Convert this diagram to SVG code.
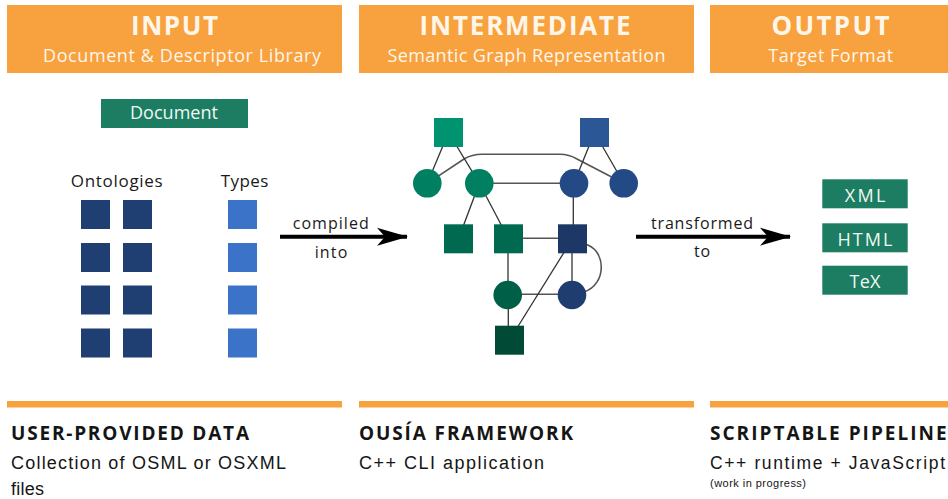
<svg xmlns="http://www.w3.org/2000/svg" width="948" height="499" viewBox="0 0 948 499">
<defs>
<style>
.hdr{fill:#F8A13F}
.ttl{font-family:"Open Sans","Noto Sans",sans-serif;font-weight:bold;font-size:26px;fill:#FFF6EA;text-anchor:middle}
.sub{font-family:"Open Sans","Noto Sans",sans-serif;font-size:18px;fill:#FFF6EA;text-anchor:middle}
.lbl{font-family:"Open Sans","Noto Sans",sans-serif;font-size:17px;fill:#1a1a1a;text-anchor:middle}
.box{fill:#1C7D62}
.boxt{font-family:"Open Sans","Noto Sans",sans-serif;font-size:18px;fill:#F2F7F4;text-anchor:middle}
.ont{fill:#1F3F73}
.typ{fill:#3B73C9}
.bar{fill:#F8A13F}
.bh{font-family:"Open Sans","Noto Sans",sans-serif;font-weight:bold;font-size:19px;fill:#151515}
.bt{font-family:"Liberation Sans","DejaVu Sans",sans-serif;font-size:18px;fill:#151515}
.sm{font-family:"Liberation Sans","DejaVu Sans",sans-serif;font-size:11px;fill:#151515}
.e{stroke:#333;stroke-width:1.3;fill:none}
.eg{stroke:#555;stroke-width:1.6;fill:none}
.arr{stroke:#000;stroke-width:4;fill:none}
</style>
<marker id="ah" viewBox="0 0 32 20" refX="30" refY="10" markerWidth="32" markerHeight="20" markerUnits="userSpaceOnUse" orient="auto">
<polygon points="0,1 31,10 0,19 8,10" fill="#000"/>
</marker>
</defs>

<g id="header-input">
<rect class="hdr" x="7" y="5" width="335" height="68"/>
<text class="ttl" x="174.5" y="35" textLength="87" lengthAdjust="spacing">INPUT</text>
<text class="sub" x="182" y="62" textLength="278" lengthAdjust="spacing">Document &amp; Descriptor Library</text>
</g>
<g id="header-intermediate">
<rect class="hdr" x="359" y="5" width="335" height="68"/>
<text class="ttl" x="525" y="35" textLength="211" lengthAdjust="spacing">INTERMEDIATE</text>
<text class="sub" x="526.5" y="62" textLength="278" lengthAdjust="spacing">Semantic Graph Representation</text>
</g>
<g id="header-output">
<rect class="hdr" x="710" y="5" width="245" height="68"/>
<text class="ttl" x="830.5" y="35" textLength="118" lengthAdjust="spacing">OUTPUT</text>
<text class="sub" x="830.7" y="62" textLength="125" lengthAdjust="spacing">Target Format</text>
</g>

<g id="document">
<rect class="box" x="101" y="99" width="147" height="29"/>
<text class="boxt" x="174" y="119" textLength="88" lengthAdjust="spacing">Document</text>
</g>

<g id="ontologies">
<text class="lbl" x="116.7" y="186.7" textLength="92" lengthAdjust="spacing">Ontologies</text>
<rect class="ont" x="81" y="200" width="29" height="29"/>
<rect class="ont" x="123" y="200" width="29" height="29"/>
<rect class="ont" x="81" y="243" width="29" height="29"/>
<rect class="ont" x="123" y="243" width="29" height="29"/>
<rect class="ont" x="81" y="285.5" width="29" height="29"/>
<rect class="ont" x="123" y="285.5" width="29" height="29"/>
<rect class="ont" x="81" y="328.5" width="29" height="29"/>
<rect class="ont" x="123" y="328.5" width="29" height="29"/>
</g>

<g id="types">
<text class="lbl" x="244.5" y="186.7" textLength="47.6" lengthAdjust="spacing">Types</text>
<rect class="typ" x="228" y="200" width="29" height="29"/>
<rect class="typ" x="228" y="243" width="29" height="29"/>
<rect class="typ" x="228" y="285.5" width="29" height="29"/>
<rect class="typ" x="228" y="328.5" width="29" height="29"/>
</g>

<g id="connectors">
<line class="arr" x1="280" y1="236.7" x2="407" y2="236.7" marker-end="url(#ah)"/>
<text class="lbl" x="330.7" y="229.3" style="font-size:16px" textLength="76" lengthAdjust="spacing">compiled</text>
<text class="lbl" x="331" y="258" style="font-size:16px" textLength="32.7" lengthAdjust="spacing">into</text>
<line class="arr" x1="636" y1="236.7" x2="790" y2="236.7" marker-end="url(#ah)"/>
<text class="lbl" x="702" y="229.3" style="font-size:16px" textLength="102" lengthAdjust="spacing">transformed</text>
<text class="lbl" x="702" y="257.3" style="font-size:16px" textLength="16" lengthAdjust="spacing">to</text>

<path class="eg" d="M427.3,183.3 L464,159 Q472,154.3 482,154.3 L560,154.3 Q569,154.3 577,159 L623.7,183.3"/>
<line class="e" x1="448.5" y1="132.5" x2="427.3" y2="183.3"/>
<line class="e" x1="448.5" y1="132.5" x2="479.3" y2="183.3"/>
<line class="e" x1="594.5" y1="132.5" x2="574" y2="183.3"/>
<line class="e" x1="594.5" y1="132.5" x2="623.7" y2="183.3"/>
<line class="eg" x1="479.3" y1="183.3" x2="574" y2="183.3"/>
<line class="e" x1="479.3" y1="183.3" x2="458.5" y2="238.8"/>
<line class="e" x1="479.3" y1="183.3" x2="508.5" y2="238.8"/>
<line class="e" x1="573.3" y1="183.3" x2="573.3" y2="238.8"/>
<line class="eg" x1="508.5" y1="238.3" x2="572.5" y2="238.3"/>
<line class="e" x1="508" y1="238.8" x2="508" y2="295"/>
<line class="e" x1="572" y1="238.8" x2="572" y2="295"/>
<line class="eg" x1="507.7" y1="294.3" x2="572" y2="294.3"/>
<line class="e" x1="572.5" y1="238.8" x2="509.5" y2="340"/>
<line class="e" x1="508.3" y1="295" x2="508.3" y2="340"/>
<path class="eg" d="M584,244 C606,248 608,284 584,292"/>
</g>

<g id="g-sq-tl"><rect x="434" y="118" width="29" height="29" fill="#00936F"/></g>
<g id="g-sq-tr"><rect x="580" y="118" width="29" height="29" fill="#2B5797"/></g>
<g id="g-c1"><circle cx="427.3" cy="183.3" r="14.3" fill="#008060"/></g>
<g id="g-c2"><circle cx="479.3" cy="183.3" r="14.3" fill="#008060"/></g>
<g id="g-c3"><circle cx="574" cy="183.3" r="14.3" fill="#244A86"/></g>
<g id="g-c4"><circle cx="623.7" cy="183.3" r="14.3" fill="#244A86"/></g>
<g id="g-s1"><rect x="444" y="224.3" width="29" height="29" fill="#006A50"/></g>
<g id="g-s2"><rect x="494" y="224.3" width="29" height="29" fill="#006A50"/></g>
<g id="g-s3"><rect x="558" y="224.3" width="29" height="29" fill="#1D3866"/></g>
<g id="g-c5"><circle cx="507.7" cy="295" r="14.3" fill="#005F47"/></g>
<g id="g-c6"><circle cx="572" cy="295" r="14.3" fill="#1F3D6E"/></g>
<g id="g-sq-b"><rect x="495" y="325.7" width="29" height="29" fill="#004A36"/></g>

<g id="xml"><rect class="box" x="822.3" y="179.3" width="85.4" height="29"/><text class="boxt" x="865" y="201.7" textLength="40.7" lengthAdjust="spacing">XML</text></g>
<g id="html"><rect class="box" x="822.3" y="223.3" width="85.4" height="29"/><text class="boxt" x="865" y="245.7" textLength="55" lengthAdjust="spacing">HTML</text></g>
<g id="tex"><rect class="box" x="822.3" y="265.7" width="85.4" height="29"/><text class="boxt" x="865" y="288.3" textLength="31" lengthAdjust="spacing">TeX</text></g>

<g id="footer-input">
<rect class="bar" x="7" y="401" width="335" height="6.5"/>
<text class="bh" x="11" y="440" textLength="238" lengthAdjust="spacing">USER-PROVIDED DATA</text>
<text class="bt" x="11" y="469.3" textLength="275" lengthAdjust="spacing">Collection of OSML or OSXML</text>
<text class="bt" x="11" y="495.3" textLength="33" lengthAdjust="spacing">files</text>
</g>
<g id="footer-intermediate">
<rect class="bar" x="359" y="401" width="335" height="6.5"/>
<text class="bh" x="359" y="440" textLength="214" lengthAdjust="spacing">OUSÍA FRAMEWORK</text>
<text class="bt" x="359" y="469.3" textLength="185" lengthAdjust="spacing">C++ CLI application</text>
</g>
<g id="footer-output">
<rect class="bar" x="710" y="401" width="245" height="6.5"/>
<text class="bh" x="710" y="440" textLength="236.7" lengthAdjust="spacing">SCRIPTABLE PIPELINE</text>
<text class="bt" x="710" y="469.3" style="font-size:17.5px" textLength="235" lengthAdjust="spacing">C++ runtime + JavaScript</text>
<text class="sm" x="710" y="486.7" textLength="96" lengthAdjust="spacing">(work in progress)</text>
</g>
</svg>
